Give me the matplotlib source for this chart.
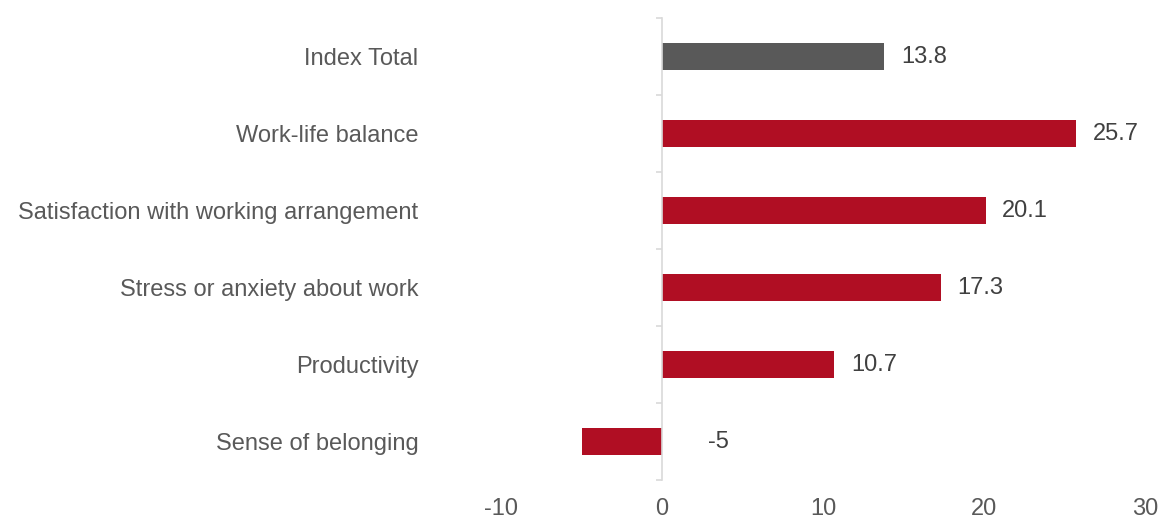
import numpy as np
import matplotlib.pyplot as plt
from matplotlib.ticker import FixedLocator

plt.rcParams['font.family'] = ['Liberation Sans', 'DejaVu Sans']
plt.rcParams['axes.unicode_minus'] = False

# Categories, top to bottom
categorias = ['Index Total', 'Work-life balance', 'Satisfaction with working arrangement',
              'Stress or anxiety about work', 'Productivity', 'Sense of belonging']
valores = [13.8, 25.7, 20.1, 17.3, 10.7, -5]
colores = ['#595959', '#B00E23', '#B00E23', '#B00E23', '#B00E23', '#B00E23']
x_ticks = [-10, 0, 10, 20, 30]

fig = plt.figure(figsize=(11.62, 5.18), dpi=100)
ax = fig.add_axes([0.4312, 0.0734, 0.5542, 0.8919])

y = np.arange(len(categorias))
ax.barh(y, valores, height=0.36, color=colores)
ax.set_xlim(-10, 30)
ax.set_ylim(len(categorias) - 0.5, -0.5)

# Value labels to the right of each bar (negatives sit right of the zero line)
for yi, v in zip(y, valores):
    desp = 12 if v >= 0 else 33
    ax.annotate(f'{v:g}', (max(v, 0), yi), xytext=(desp, -0.5), textcoords='offset points',
                ha='left', va='center', fontsize=17, color='#404040')

# Vertical axis at zero with small ticks between categories
for s in ['top', 'right', 'bottom']:
    ax.spines[s].set_visible(False)
ax.spines['left'].set_position(('data', 0))
ax.spines['left'].set_color('#D9D9D9')
ax.spines['left'].set_linewidth(1.2)
ax.set_yticks(y)
ax.set_yticklabels(categorias)
ax.yaxis.set_minor_locator(FixedLocator(np.arange(len(categorias) + 1) - 0.5))
ax.tick_params(axis='y', which='major', length=0, pad=175.5, labelsize=17, labelcolor='#595959')
ax.tick_params(axis='y', which='minor', length=4, width=1.2, color='#D9D9D9', direction='out')

ax.set_xticks(x_ticks)
ax.tick_params(axis='x', length=0, pad=13, labelsize=17, labelcolor='#595959')

fig.savefig('out.png', dpi=100)
